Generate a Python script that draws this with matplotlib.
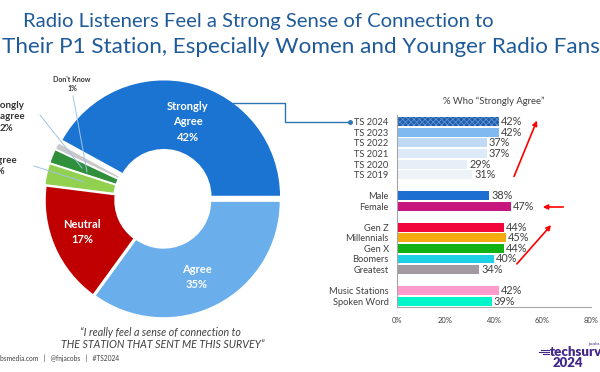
import matplotlib
matplotlib.use('Agg')
import matplotlib.pyplot as plt
from matplotlib.lines import Line2D

plt.rcParams['font.family'] = ['Lato', 'DejaVu Sans']

W, H = 600, 372

# donut data
pie_labels = ['Strongly Agree', "Don't Know", 'Strongly Disagree', 'Disagree', 'Neutral', 'Agree']
pie_values = [42, 1, 2, 3, 17, 35]
pie_colors = ['#1C74D2', '#C9C9C9', '#2F8F3A', '#92D050', '#C00000', '#6AAEEC']

# bar data
bar_labels = ['TS 2024', 'TS 2023', 'TS 2022', 'TS 2021', 'TS 2020', 'TS 2019',
              'Male', 'Female',
              'Gen Z', 'Millennials', 'Gen X', 'Boomers', 'Greatest',
              'Music Stations', 'Spoken Word']
bar_values = [42, 42, 37, 37, 29, 31,
              38, 47,
              44, 45, 44, 40, 34,
              42, 39]
bar_rows = [0, 1, 2, 3, 4, 5, 7, 8, 10, 11, 12, 13, 14, 16, 17]
bar_colors = ['#1F5DA8', '#80B8F0', '#C0DAF5', '#DCEAF9', '#E6EEF8', '#EEF3FA',
              '#1C6ED0', '#C8167F',
              '#F2073D', '#F5AA10', '#12B114', '#1ED0E6', '#A19BA1',
              '#FF9ACC', '#00F5CB']
xticks = [0, 20, 40, 60, 80]


def fp(x, y):
    return x / W, 1 - y / H


plt.rcParams['hatch.linewidth'] = 0.6
fig = plt.figure(figsize=(6, 3.72), dpi=100)

# title
title_color = '#1F5A99'
fig.text(*fp(258, 21), 'Radio Listeners Feel a Strong Sense of Connection to',
         ha='center', va='center', fontsize=14.6, color=title_color)
fig.text(*fp(301, 47), 'Their P1 Station, Especially Women and Younger Radio Fans',
         ha='center', va='center', fontsize=16.2, color=title_color)

# donut
cx, cy, R = 163, 200, 117
span = 135
ax_pie = fig.add_axes([(cx - span) / W, 1 - (cy + span) / H, 2 * span / W, 2 * span / H])
ax_pie.pie(pie_values, colors=pie_colors, startangle=0, counterclock=True,
           explode=[0.03, 0.02, 0.02, 0.02, 0.01, 0.01], radius=1,
           wedgeprops=dict(width=0.6, edgecolor='white', linewidth=1.2))
ax_pie.set_xlim(-span / R, span / R)
ax_pie.set_ylim(-span / R, span / R)
ax_pie.set_aspect('auto')
ax_pie.axis('off')

fig.text(*fp(188, 122), 'Strongly\nAgree\n42%', ha='center', va='center',
         fontsize=8, color='white', fontweight='bold', linespacing=1.45)
fig.text(*fp(82, 232), 'Neutral\n17%', ha='center', va='center',
         fontsize=8, color='white', fontweight='bold', linespacing=1.45)
fig.text(*fp(197, 277), 'Agree\n35%', ha='center', va='center',
         fontsize=8, color='white', fontweight='bold', linespacing=1.45)
fig.text(*fp(72, 84), "Don't Know\n1%", ha='center', va='center',
         fontsize=5, color='#333333', fontweight='bold', linespacing=1.4)
fig.text(*fp(6, 117), 'Strongly\nDisagree\n2%', ha='center', va='center',
         fontsize=7, color='#333333', fontweight='bold', linespacing=1.3)
fig.text(*fp(-2, 166), 'Disagree\n3%', ha='center', va='center',
         fontsize=7, color='#333333', fontweight='bold', linespacing=1.3)

leader = '#9DC3E6'
for (x0, y0), (x1, y1) in [((73, 96), (87, 172)), ((40, 115), (82, 168)), ((34, 166), (84, 182))]:
    fig.add_artist(Line2D([x0 / W, x1 / W], [1 - y0 / H, 1 - y1 / H], color=leader, lw=0.7))

fig.text(*fp(160, 332), '\u201cI really feel a sense of connection to', ha='center', va='center',
         fontsize=7.7, style='italic', color='#404040')
fig.text(*fp(163, 344), 'THE STATION THAT SENT ME THIS SURVEY\u201d', ha='center', va='center',
         fontsize=7.7, style='italic', color='#404040')

# connector from donut to bar chart
px = [233, 285, 285, 350]
py = [103, 103, 122, 122]
fig.add_artist(Line2D([x / W for x in px], [1 - y / H for y in py], color='#2E75B6', lw=1))
fig.add_artist(Line2D([350 / W], [1 - 122 / H], marker='o', markersize=2.5, color='#2E75B6'))

# bar chart
ax = fig.add_axes([397 / W, 1 - 307 / H, 194 / W, 192 / H])
bars = ax.barh(bar_rows, bar_values, height=0.85, color=bar_colors)
bars[0].set_hatch('xxxxxx')
bars[0].set_edgecolor('#5E92D6')
bars[0].set_linewidth(0)
for r, v in zip(bar_rows, bar_values):
    ax.text(v + 0.8, r, f'{v}%', va='center', ha='left', fontsize=7.8, color='#404040')
ax.set_xlim(0, 80)
ax.set_ylim(17.55, -0.65)
ax.set_yticks(bar_rows)
ax.set_yticklabels(bar_labels, fontsize=6.7, color='#404040')
ax.set_xticks(xticks)
ax.set_xticklabels([f'{t}%' for t in xticks], fontsize=5.5, color='#404040')
ax.tick_params(length=0)
ax.tick_params(axis='y', pad=6)
ax.tick_params(axis='x', pad=7)
for s in ['top', 'right']:
    ax.spines[s].set_visible(False)
ax.spines['left'].set_color('#A6A6A6')
ax.spines['bottom'].set_color('#A6A6A6')
ax.set_title('% Who \u201cStrongly Agree\u201d', fontsize=6.8, color='#404040', pad=8)

# red arrows
arrows = [((513, 179), (538, 118)), ((566, 207), (540, 207)), ((515, 266), (553, 223))]
for (x0, y0), (x1, y1) in arrows:
    fig.add_artist(matplotlib.patches.FancyArrowPatch(
        fp(x0, y0), fp(x1, y1), transform=fig.transFigure,
        arrowstyle='-|>', mutation_scale=7, color='#FF0000', lw=1.2))

# footer
fig.text(0, 1 - 358 / H, 'bsmedia.com   |   @fnjacobs   |   #TS2024', ha='left', va='center',
         fontsize=4.8, color='#404040')
purple = '#43278A'
fig.text(*fp(550, 352), 'techsurvey', ha='left', va='center', fontsize=9.5,
         fontweight='heavy', color=purple)
fig.text(*fp(553, 363), '2024', ha='left', va='center', fontsize=9.5,
         fontweight='heavy', color=purple)
fig.text(*fp(588, 344), 'jacobs', ha='left', va='center', fontsize=3, color=purple)
for dy, x0 in [(-2, 541), (0, 539), (2, 543)]:
    fig.add_artist(Line2D([x0 / W, 549 / W], [1 - (352 + dy) / H] * 2, color=purple, lw=0.8))

fig.savefig('out.png', dpi=100)
